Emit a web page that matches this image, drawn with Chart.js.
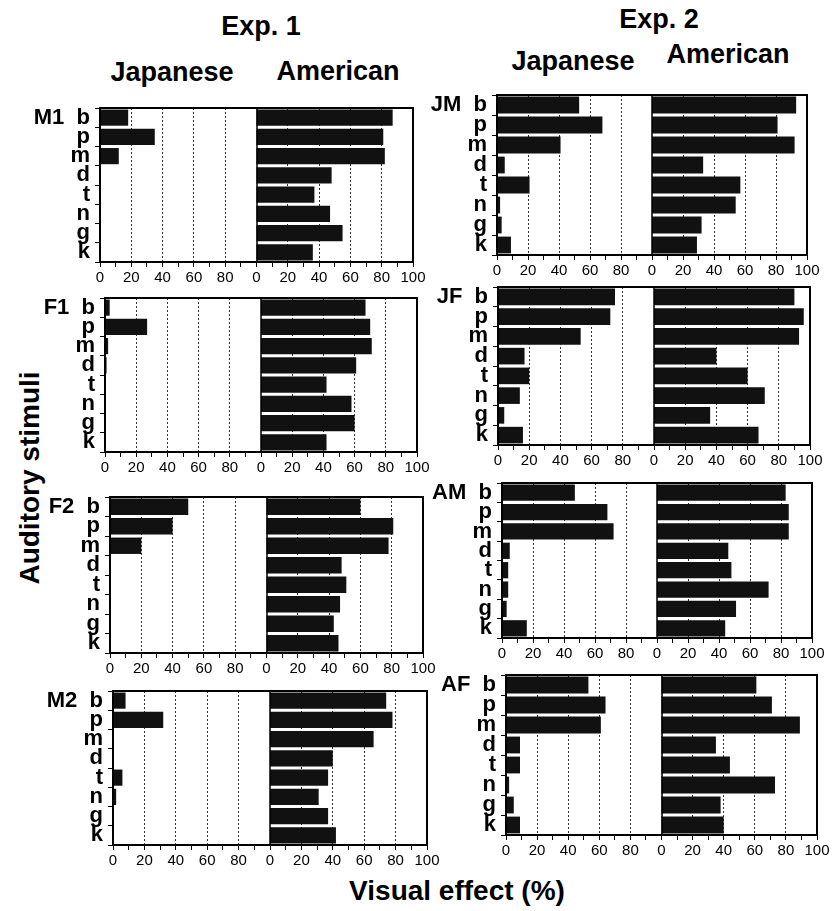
<!DOCTYPE html>
<html lang="en">
<head>
  <meta charset="UTF-8">
  <title>Visual effect by auditory stimuli</title>
  <script src="https://cdn.jsdelivr.net/npm/chart.js"></script>
  <style>
    html, body { margin: 0; padding: 0; background: #fff; }
    body { width: 836px; height: 911px; position: relative; overflow: hidden;
           font-family: "Liberation Sans", Arial, Helvetica, sans-serif; color: #000; }
    .lbl { position: absolute; font-weight: bold; line-height: 1; white-space: nowrap;
           transform: translate(-50%, -50%); }
    canvas { position: absolute; }
  </style>
</head>
<body>
  <div class="lbl" style="left:261px; top:26px; font-size:27px;">Exp. 1</div>
  <div class="lbl" style="left:659px; top:19px; font-size:27px;">Exp. 2</div>
  <div class="lbl" style="left:172px; top:72px; font-size:27px;">Japanese</div>
  <div class="lbl" style="left:338px; top:71px; font-size:27px;">American</div>
  <div class="lbl" style="left:573px; top:61px; font-size:27px;">Japanese</div>
  <div class="lbl" style="left:728px; top:54px; font-size:27px;">American</div>
  <div class="lbl" style="left:30px; top:478px; font-size:28px; transform:translate(-50%,-50%) rotate(-90deg);">Auditory stimuli</div>
  <div class="lbl" style="left:457px; top:891px; font-size:28px;">Visual effect (%)</div>

  <script>
    // stimuli, top to bottom
    const stimuli = ['b', 'p', 'm', 'd', 't', 'n', 'g', 'k'];

    // visual effect (%) per talker: Japanese and American perceivers
    const m1Jp = [18, 35, 12, 0, 0, 0, 0, 0];
    const m1Am = [87, 81, 82, 48, 37, 47, 55, 36];
    const f1Jp = [3, 27, 2, 1, 0, 0, 0, 0];
    const f1Am = [67, 70, 71, 61, 42, 58, 60, 42];
    const f2Jp = [50, 40, 20, 0, 0, 0, 0, 0];
    const f2Am = [60, 81, 78, 48, 51, 47, 43, 46];
    const m2Jp = [8, 32, 0, 0, 6, 2, 0, 0];
    const m2Am = [74, 78, 66, 40, 37, 31, 37, 42];

    const jmJp = [53, 68, 41, 5, 21, 2, 3, 9];
    const jmAm = [93, 81, 92, 33, 57, 54, 32, 29];
    const jfJp = [75, 72, 53, 17, 20, 14, 4, 16];
    const jfAm = [90, 96, 93, 40, 60, 71, 36, 67];
    const amJp = [47, 68, 72, 5, 4, 4, 3, 16];
    const amAm = [83, 85, 85, 46, 48, 72, 51, 44];
    const afJp = [53, 64, 61, 9, 9, 2, 5, 9];
    const afAm = [61, 71, 89, 35, 44, 73, 38, 40];

    const xTicks = [0, 20, 40, 60, 80];

    // plot-area boxes (px) of each panel in the scan
    const panels = [
      { name: 'M1', jp: m1Jp, am: m1Am, l: 100, r: 413, t: 108, b: 262 },
      { name: 'F1', jp: f1Jp, am: f1Am, l: 105, r: 417, t: 298, b: 452 },
      { name: 'F2', jp: f2Jp, am: f2Am, l: 110, r: 423, t: 497, b: 653 },
      { name: 'M2', jp: m2Jp, am: m2Am, l: 113, r: 427, t: 691, b: 845 },
      { name: 'JM', jp: jmJp, am: jmAm, l: 497, r: 807, t: 95, b: 255 },
      { name: 'JF', jp: jfJp, am: jfAm, l: 498, r: 810, t: 287, b: 445 },
      { name: 'AM', jp: amJp, am: amAm, l: 502, r: 812, t: 483, b: 638 },
      { name: 'AF', jp: afJp, am: afAm, l: 506, r: 817, t: 675, b: 835 }
    ];

    const YW = 100, PT = 20, PR = 16, XH = 30;
    const FONT = '"Liberation Sans", Arial, Helvetica, sans-serif';

    // box round the plot and the divider between the two halves
    const framePlugin = {
      id: 'frame',
      afterDraw(chart) {
        const { ctx, chartArea: a, scales: { x } } = chart;
        ctx.save();
        ctx.strokeStyle = '#000';
        ctx.lineWidth = 2;
        ctx.strokeRect(a.left, a.top, a.right - a.left, a.bottom - a.top);
        const mx = Math.round(x.getPixelForValue(100));
        ctx.lineWidth = 1.5;
        ctx.beginPath();
        ctx.moveTo(mx, a.top);
        ctx.lineTo(mx, a.bottom);
        ctx.stroke();
        ctx.restore();
      }
    };

    for (const p of panels) {
      const canvas = document.createElement('canvas');
      const w = (p.r - p.l) + YW + PR;
      const h = (p.b - p.t) + PT + XH;
      canvas.width = w;
      canvas.height = h;
      canvas.style.left = (p.l - YW) + 'px';
      canvas.style.top = (p.t - PT) + 'px';
      canvas.style.width = w + 'px';
      canvas.style.height = h + 'px';
      document.body.appendChild(canvas);

      const barStyle = {
        backgroundColor: '#111',
        borderWidth: 0,
        grouped: false,
        barPercentage: 0.84,
        categoryPercentage: 1
      };

      new Chart(canvas, {
        type: 'bar',
        data: {
          labels: stimuli,
          datasets: [
            { label: 'Japanese', data: p.jp, ...barStyle },
            // American half sits on 100..200 of the shared axis
            { label: 'American', data: p.am.map(v => [100, 100 + v]), ...barStyle }
          ]
        },
        options: {
          indexAxis: 'y',
          responsive: false,
          animation: false,
          layout: { padding: { left: 0, top: PT, right: PR, bottom: 0 } },
          plugins: { legend: { display: false }, tooltip: { enabled: false } },
          scales: {
            x: {
              type: 'linear',
              min: 0,
              max: 200,
              afterFit: s => { s.height = XH; },
              ticks: {
                stepSize: 10,
                autoSkip: false,
                maxRotation: 0,
                padding: 2,
                color: '#000',
                font: { family: FONT, size: 15 },
                callback: v => {
                  if (v % 20 !== 0) return '';
                  if (v < 100) return xTicks.includes(v) ? String(v) : '';
                  return String(v - 100);
                }
              },
              grid: {
                color: c => {
                  const v = c.tick ? c.tick.value : 0;
                  return (v % 20 === 0 && v !== 0 && v !== 100 && v !== 200) ? '#333' : 'rgba(0,0,0,0)';
                },
                lineWidth: 1,
                tickColor: '#000',
                tickLength: 5
              },
              border: { display: true, color: '#000', width: 2, dash: [2, 2] }
            },
            y: {
              type: 'category',
              offset: true,
              afterFit: s => { s.width = YW; },
              ticks: {
                autoSkip: false,
                padding: 5,
                color: '#000',
                font: { family: FONT, size: 22, weight: 'bold' },
                callback: (v, i) => i === 0 ? p.name + '  ' + stimuli[i] : stimuli[i]
              },
              grid: {
                drawOnChartArea: false,
                offset: true,
                tickColor: '#000',
                tickLength: 5
              },
              border: { display: true, color: '#000', width: 2 }
            }
          }
        },
        plugins: [framePlugin]
      });
    }
  </script>
</body>
</html>
